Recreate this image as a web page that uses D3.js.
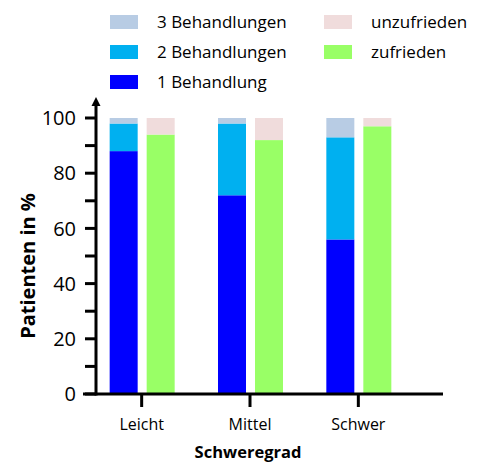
<!DOCTYPE html>
<html>
<head>
<meta charset="utf-8">
<script src="https://cdn.jsdelivr.net/npm/d3@7"></script>
<style>
    body { margin: 0; background: #fff; }
    svg { display: block; font-family: 'Open Sans', sans-serif; }
</style>
</head>
<body>
<svg id="chart" width="500" height="472"></svg>
<script>
const categories = ['Leicht', 'Mittel', 'Schwer'];
const treatmentKeys = ['1 Behandlung', '2 Behandlungen', '3 Behandlungen'];
const oneTreatment = [88, 72, 56];
const twoTreatments = [10, 26, 37];
const threeTreatments = [2, 2, 7];
const satisfactionKeys = ['zufrieden', 'unzufrieden'];
const satisfied = [94, 92, 97];
const unsatisfied = [6, 8, 3];
const yTicks = [0, 10, 20, 30, 40, 50, 60, 70, 80, 90, 100];
const yLabels = [0, 20, 40, 60, 80, 100];

const COLORS = {
    '1 Behandlung': '#0000ff',
    '2 Behandlungen': '#00b0f0',
    '3 Behandlungen': '#b8cce4',
    'zufrieden': '#99ff66',
    'unzufrieden': '#f0dcdc'
};

const svg = d3.select('#chart');

const x = d3.scaleBand()
    .domain(categories)
    .range([87.5, 412.5]);
const y = d3.scaleLinear()
    .domain([0, 100])
    .range([394, 118]);

const BAR_W = 28;
const GAP = 9;

const treatmentRows = categories.map((c, i) => ({
    cat: c,
    '1 Behandlung': oneTreatment[i],
    '2 Behandlungen': twoTreatments[i],
    '3 Behandlungen': threeTreatments[i]
}));
const satisfactionRows = categories.map((c, i) => ({
    cat: c,
    'zufrieden': satisfied[i],
    'unzufrieden': unsatisfied[i]
}));

function drawStack(rows, keys, offset) {
    const series = d3.stack().keys(keys)(rows);
    svg.append('g')
        .selectAll('g')
        .data(series)
        .join('g')
        .attr('fill', d => COLORS[d.key])
        .selectAll('rect')
        .data(d => d)
        .join('rect')
        .attr('x', d => x(d.data.cat) + x.bandwidth() / 2 + offset)
        .attr('width', BAR_W)
        .attr('y', d => y(d[1]))
        .attr('height', d => y(d[0]) - y(d[1]));
}

drawStack(treatmentRows, treatmentKeys, -(BAR_W + GAP / 2) + 0.5);
drawStack(satisfactionRows, satisfactionKeys, GAP / 2 + 0.5);

// y axis
const yAxis = svg.append('g').attr('transform', 'translate(96,0)');
yAxis.selectAll('line.tick')
    .data(yTicks)
    .join('line')
    .attr('class', 'tick')
    .attr('x1', -11).attr('x2', 0)
    .attr('y1', d => y(d)).attr('y2', d => y(d))
    .attr('stroke', '#000').attr('stroke-width', 3);
yAxis.selectAll('text')
    .data(yLabels)
    .join('text')
    .attr('x', -20)
    .attr('y', d => y(d))
    .attr('dy', '0.36em')
    .attr('text-anchor', 'end')
    .attr('font-size', 20)
    .text(d => d);
yAxis.append('line')
    .attr('x1', 0).attr('x2', 0)
    .attr('y1', y(0) + 1.5).attr('y2', 103)
    .attr('stroke', '#000').attr('stroke-width', 3);
yAxis.append('path')
    .attr('d', 'M-4.5,106 L0,97 L4.5,106 Z')
    .attr('fill', '#000');

// x axis
svg.append('line')
    .attr('x1', 83).attr('x2', 443)
    .attr('y1', y(0)).attr('y2', y(0))
    .attr('stroke', '#000').attr('stroke-width', 3);
const xAxis = svg.append('g');
xAxis.selectAll('line')
    .data(categories)
    .join('line')
    .attr('x1', d => x(d) + x.bandwidth() / 2)
    .attr('x2', d => x(d) + x.bandwidth() / 2)
    .attr('y1', y(0)).attr('y2', y(0) + 13)
    .attr('stroke', '#000').attr('stroke-width', 3);
xAxis.selectAll('text')
    .data(categories)
    .join('text')
    .attr('x', d => x(d) + x.bandwidth() / 2)
    .attr('y', 430)
    .attr('text-anchor', 'middle')
    .attr('font-size', 16)
    .text(d => d);

// axis titles
svg.append('text')
    .attr('x', 248).attr('y', 458)
    .attr('text-anchor', 'middle')
    .attr('font-size', 16.5)
    .attr('font-weight', 'bold')
    .text('Schweregrad');
svg.append('text')
    .attr('transform', 'translate(35,266) rotate(-90)')
    .attr('text-anchor', 'middle')
    .attr('font-size', 20)
    .attr('font-weight', 'bold')
    .text('Patienten in %');

// legend
const legendItems = [
    { key: '3 Behandlungen', col: 0, row: 0 },
    { key: '2 Behandlungen', col: 0, row: 1 },
    { key: '1 Behandlung', col: 0, row: 2 },
    { key: 'unzufrieden', col: 1, row: 0 },
    { key: 'zufrieden', col: 1, row: 1 }
];
const legend = svg.append('g')
    .selectAll('g')
    .data(legendItems)
    .join('g')
    .attr('transform', d => `translate(${110 + d.col * 214},${22 + d.row * 30})`);
legend.append('rect')
    .attr('x', 0).attr('y', -7)
    .attr('width', 28).attr('height', 14)
    .attr('fill', d => COLORS[d.key]);
legend.append('text')
    .attr('x', 47)
    .attr('dy', '0.36em')
    .attr('font-size', 17)
    .text(d => d.key);
</script>
</body>
</html>
